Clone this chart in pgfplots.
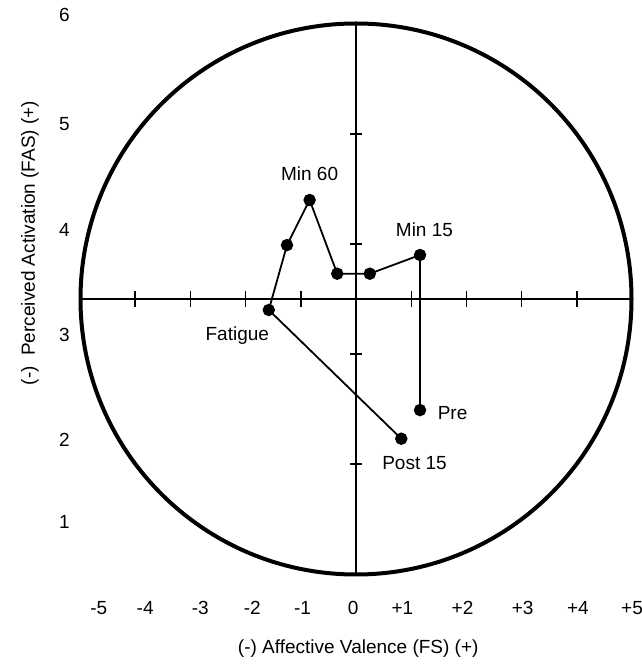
\documentclass[border=0pt]{standalone}
\usepackage{fontspec}
\setmainfont{Liberation Sans}
\usepackage{pgfplots}
\pgfplotsset{compat=1.18}
\newcommand{\fs}{\fontsize{19}{23}\selectfont}
\begin{document}
\begin{tikzpicture}
\path[use as bounding box] (0pt,0pt) rectangle (642pt,665pt);
\begin{axis}[
  at={(80pt,91pt)}, anchor=south west,
  x=55.2pt, y=110pt,
  xmin=-5, xmax=5, ymin=1, ymax=6.1,
  clip=false,
  axis line style={draw=none},
  tick style={draw=none},
  xtick={-4.66,-3.82,-2.82,-1.88,-0.97,-0.05,0.84,1.93,3.02,4.02,5.0},
  xticklabels={-5,-4,-3,-2,-1,0,+1,+2,+3,+4,+5},
  ytick={1.47,2.22,3.17,4.13,5.09,6.08},
  yticklabels={1,2,3,4,5,6},
  xticklabel style={anchor=center, yshift=-34pt},
  yticklabel style={anchor=center, xshift=-15.5pt},
  /pgf/number format/assume math mode=true,
  tick label style={font=\fs},
  label style={font=\fs},
  xlabel={(-) Affective Valence (FS) (+)},
  ylabel={(-)\ \ Perceived Activation (FAS) (+)},
  xlabel style={at={(axis description cs:0.504,-0.133)}, anchor=center},
  ylabel style={at={(axis description cs:-0.0906,0.590)}, anchor=center, rotate=0},
]
% outer circle
\draw[line width=4pt] (axis cs:0,3.5) circle[radius=275.5pt];
% central cross
\addplot[black, line width=1.4pt, no marks] coordinates {(-5,3.5) (5,3.5)};
\addplot[black, line width=1.4pt, no marks] coordinates {(0,1) (0,6)};
% tick marks on the cross
\addplot[black, only marks, mark=|, mark size=8pt, mark options={line width=1.4pt}]
  coordinates {(-4,3.5) (-3,3.5) (-2,3.5) (-1,3.5) (1,3.5) (2,3.5) (3,3.5) (4,3.5)};
\addplot[black, only marks, mark=-, mark size=6pt, mark options={line width=1.4pt}]
  coordinates {(0,2) (0,3) (0,4) (0,5)};
% data
\addplot[black, line width=1.8pt, mark=*, mark size=5.3pt] coordinates {
  (1.16,2.49) (1.16,3.90) (0.25,3.73) (-0.34,3.73) (-0.84,4.40)
  (-1.25,3.99) (-1.58,3.40) (0.82,2.23)};
% point labels
\node[font=\fs, anchor=base] at (axis cs:-0.84,4.58) {Min 60};
\node[font=\fs, anchor=base] at (axis cs:1.24,4.07) {Min 15};
\node[font=\fs, anchor=base] at (axis cs:-2.15,3.12) {Fatigue};
\node[font=\fs, anchor=base] at (axis cs:1.75,2.40) {Pre};
\node[font=\fs, anchor=base] at (axis cs:1.06,1.95) {Post 15};
\end{axis}
\end{tikzpicture}
\end{document}
